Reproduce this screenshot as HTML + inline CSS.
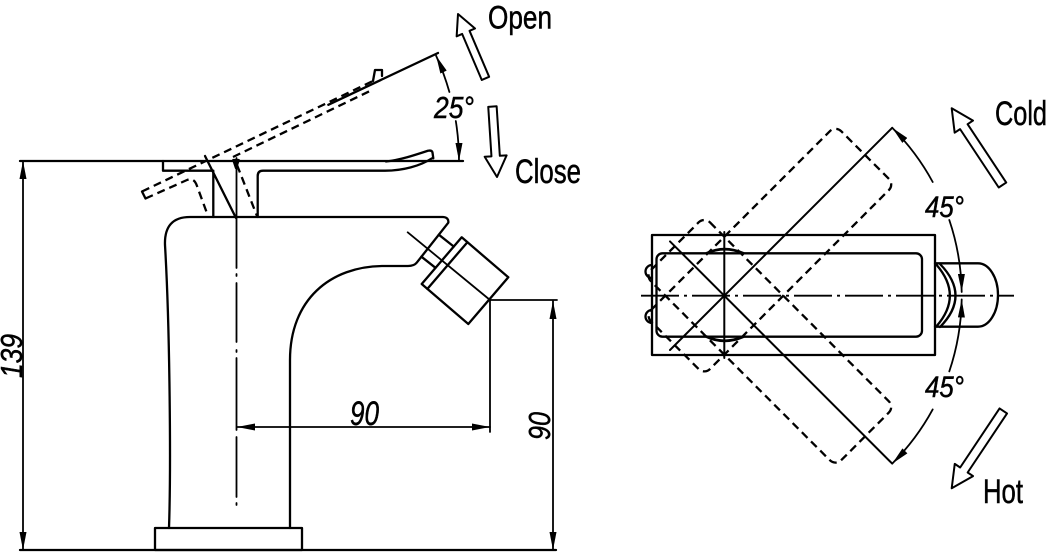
<!DOCTYPE html>
<html><head><meta charset="utf-8"><style>
html,body{margin:0;padding:0;background:#fff;}
svg{display:block;}
text{font-family:"Liberation Sans",Arial,sans-serif;fill:#000;stroke:#000;stroke-width:0.5;}
</style></head><body>
<svg width="1048" height="553" viewBox="0 0 1048 553" xmlns="http://www.w3.org/2000/svg">
<defs>
<marker id="a" markerUnits="userSpaceOnUse" markerWidth="18" markerHeight="7" viewBox="0 0 18 7" refX="18" refY="3.5" orient="auto-start-reverse"><path d="M0,0 L18,3.5 L0,7 z" fill="#000" stroke="none"/></marker>
</defs>
<rect width="1048" height="553" fill="#fff"/>
<g fill="none" stroke="#000" stroke-width="2.3" stroke-linecap="round" stroke-linejoin="round">
<!-- LEFT VIEW -->
<path d="M20,161 H463"/>
<path d="M20,550 H556"/>
<rect x="155" y="528" width="147" height="22"/>
<path d="M169,528 C171,470 170,330 165,245 Q164,217 190,217 L443,217 Q449,217.5 448.3,222.7 L416.7,262.7 Q414,266 408,266 L384,266 C330,266 290,300 290,360 L290,528"/>
<path d="M438.8,234.7 L453.7,246.5 M421.4,256.7 L435.5,267.8"/>
<path d="M461.7,237.3 L508.3,277.3 L468.3,324 L421.7,284 Z"/>
<path d="M467.4,242.2 L427.4,288.9"/>
<path d="M407.7,232.3 L490,300" stroke-width="1.8"/>
<path d="M490,300 V432 M490,300 H557" stroke-width="1.8"/>

<!-- closed lever -->
<path d="M163,161 V170.7 H213.3 V217"/>
<path d="M257.7,217 V176 Q257.7,170.7 263,170.7 H385 C403,170.7 420,166 432,158.3"/>
<path d="M386,161.5 C400,160 415,155 428,150.7 Q432,150 432.5,152.5 L433.3,158.3"/>
<path d="M205,156 L236,218"/>
<!-- open lever solid -->
<path d="M328.3,104.8 L438,53"/>
<path d="M373,81 L375,70 H382 V76"/>
<path d="M142,191.5 L145.5,198.5"/>
<!-- center line -->
<path d="M236.5,158 V268 M236.5,274 V276 M236.5,283 V342 M236.5,350 V352 M236.5,358 V430 M236.5,437 V497 M236.5,503 V505" stroke-width="1.8"/>
<path d="M233.3,160 L238.7,160 L236,168 Z" fill="#000"/>
<!-- dashed open lever -->
<g stroke-dasharray="8 5" stroke-linecap="butt">
<path d="M142,191.5 L373,81"/>
<path d="M233,157 L372,90"/>
<path d="M145.5,198.5 L187,180 Q194,177 197,186 L208,216"/>
<path d="M237,165 L257,216"/>
</g>

<!-- 25 deg arc -->
<path d="M449.4,92 A254,254 0 0 0 436.1,55.7" marker-end="url(#a)" stroke-width="1.8"/>
<path d="M455.8,121 A254,254 0 0 1 459,161" marker-end="url(#a)" stroke-width="1.8"/>

<!-- dimensions -->
<path d="M23,161 V550" marker-start="url(#a)" marker-end="url(#a)" stroke-width="1.8"/>
<path d="M237,427 H490" marker-start="url(#a)" marker-end="url(#a)" stroke-width="1.8"/>
<path d="M553,301 V550" marker-start="url(#a)" marker-end="url(#a)" stroke-width="1.8"/>

<!-- hollow arrows -->
<path transform="translate(458,14) rotate(-23.1)" d="M0,0 L10,20 L4,20 L4,70 L-4,70 L-4,20 L-10,20 Z" fill="#fff" stroke-width="2"/>
<path transform="translate(497,177) rotate(176.3)" d="M0,0 L11,21 L4.2,21 L4.2,70.6 L-4.2,70.6 L-4.2,21 L-11,21 Z" fill="#fff" stroke-width="2"/>
<path transform="translate(951.7,108.3) rotate(-33.5)" d="M0,0 L11,22 L4.5,22 L4.5,92 L-4.5,92 L-4.5,22 L-11,22 Z" fill="#fff" stroke-width="2"/>
<path transform="translate(951.7,488.3) rotate(213.7)" d="M0,0 L11,22 L4.5,22 L4.5,93 L-4.5,93 L-4.5,22 L-11,22 Z" fill="#fff" stroke-width="2"/>

<!-- RIGHT VIEW -->
<rect x="652" y="235" width="283" height="120"/>
<rect x="656.5" y="253.3" width="265.5" height="83.4" rx="6"/>
<path d="M652,265 A6.5,6.5 0 0 0 652,278 M652,310 A6.5,6.5 0 0 0 652,323"/>
<path d="M706.7,253.3 Q724.3,245 743.3,253.3 M706.7,336.7 Q724.3,345 743.3,336.7" stroke-width="2.8"/>
<path d="M641,295.7 H1014" stroke-dasharray="38 5 3 5" stroke-width="1.8" stroke-linecap="butt"/>
<path d="M724.3,232 V358" stroke-width="2"/>
<path d="M670,350 L892.2,127.8 M670,241.4 L892.2,463.6" stroke-width="2"/>
<g stroke-dasharray="8 5" stroke-linecap="butt">
<rect x="654.3" y="254" width="269" height="83.4" rx="8" transform="rotate(-45 724.3 295.7)"/>
<rect x="654.3" y="254" width="269" height="83.4" rx="8" transform="rotate(45 724.3 295.7)"/>
</g>
<path d="M935,263.3 H978 A20,31.7 0 0 1 978,326.7 H935"/>
<path d="M936.7,265 Q963,295.7 936.7,326 M940,264 Q971,295.7 940,327"/>

<!-- 45 deg arcs -->
<path d="M932.7,182 A237.4,237.4 0 0 0 892.2,127.8" marker-end="url(#a)" stroke-width="1.8"/>
<path d="M949.3,220 A237.4,237.4 0 0 1 961.7,292" marker-end="url(#a)" stroke-width="1.8"/>
<path d="M949.3,371.4 A237.4,237.4 0 0 0 961.7,299.4" marker-end="url(#a)" stroke-width="1.8"/>
<path d="M932.7,409.4 A237.4,237.4 0 0 1 892.2,463.6" marker-end="url(#a)" stroke-width="1.8"/>
</g>

<!-- TEXT -->
<text transform="translate(22,356) rotate(-90)" x="0" y="0" text-anchor="middle" font-size="31" font-style="italic" textLength="44" lengthAdjust="spacingAndGlyphs">139</text>
<text x="364.5" y="425" text-anchor="middle" font-size="34" font-style="italic" textLength="29" lengthAdjust="spacingAndGlyphs">90</text>
<text transform="translate(550,426) rotate(-90)" x="0" y="0" text-anchor="middle" font-size="31" font-style="italic" textLength="28" lengthAdjust="spacingAndGlyphs">90</text>
<text x="434" y="118" font-size="31" font-style="italic" textLength="40" lengthAdjust="spacingAndGlyphs">25°</text>
<text x="488" y="28.5" font-size="32" textLength="64" lengthAdjust="spacingAndGlyphs">Open</text>
<text x="515" y="183" font-size="34" textLength="66" lengthAdjust="spacingAndGlyphs">Close</text>
<text x="995" y="125" font-size="34" textLength="52" lengthAdjust="spacingAndGlyphs">Cold</text>
<text x="983" y="503" font-size="34" textLength="40" lengthAdjust="spacingAndGlyphs">Hot</text>
<text x="925" y="217" font-size="30" font-style="italic" textLength="39" lengthAdjust="spacingAndGlyphs">45°</text>
<text x="925" y="397" font-size="30" font-style="italic" textLength="39" lengthAdjust="spacingAndGlyphs">45°</text>
</svg>
</body></html>
